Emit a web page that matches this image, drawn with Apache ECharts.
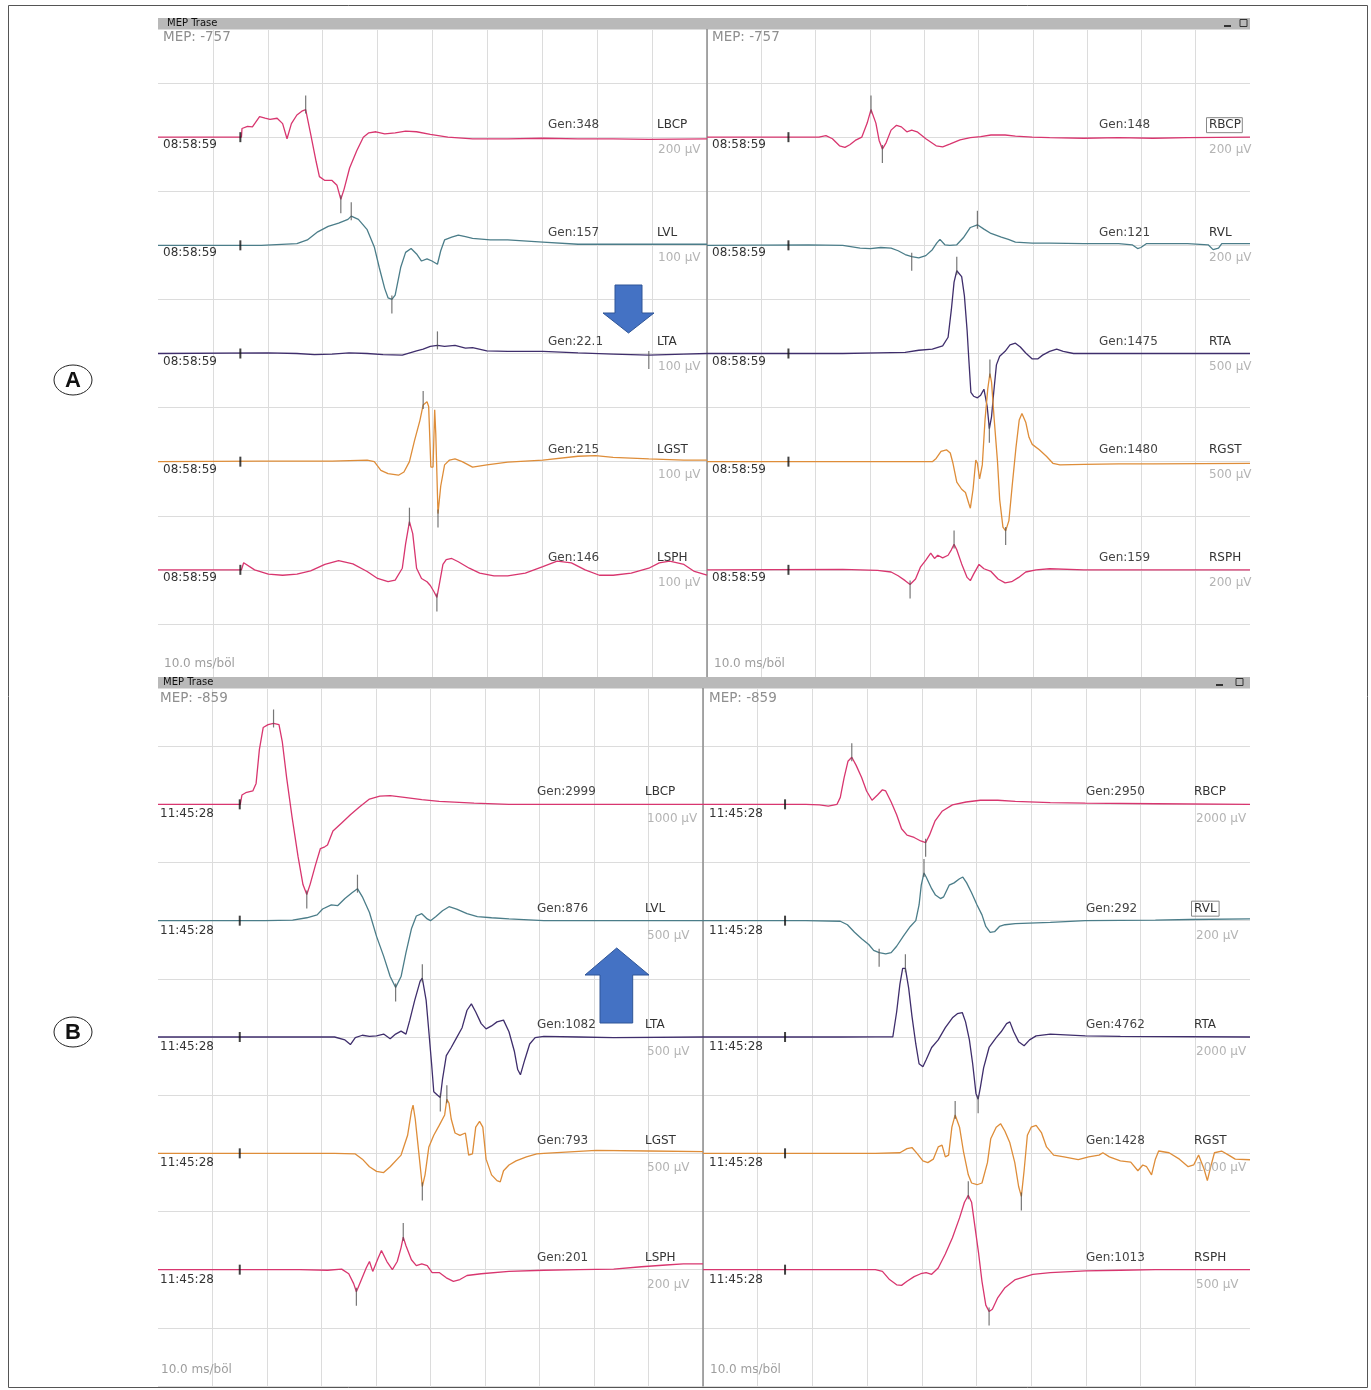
<!DOCTYPE html>
<html>
<head>
<meta charset="utf-8">
<title>MEP Trase</title>
<script src="https://cdn.jsdelivr.net/npm/echarts@6/dist/echarts.min.js"></script>
<style>
html, body { margin: 0; padding: 0; background: #fff; }
#main { width: 1371px; height: 1390px; }
</style>
</head>
<body>
<div id="main"></div>
<script>
var chart = echarts.init(document.getElementById('main'));

// ---- MEP traces, points are [ms, µV] ----
// panel A, left side (08:58:59)
var aLBCP = [[0,0],[15.2,0],[15.3,32],[16.3,40],[17.2,38],[18.5,76],[19.5,70],[20.4,66],[21.7,70],[22.7,50],[23.5,-6],[24.3,50],[25.3,82],[26.2,96],[26.9,102],[27.8,12],[28.8,-90],[29.4,-146],[30.4,-160],[31.7,-160],[32.6,-178],[33.3,-230],[33.9,-192],[34.9,-114],[36.2,-50],[37.4,0],[38.4,16],[39.7,20],[41.3,12],[43.2,16],[45.1,22],[47.1,20],[49.6,10],[52.8,0],[57.3,-6],[63.7,-6],[70.1,-4],[76.5,-6],[82.9,-6],[89.4,-8],[100,-6]];
var aLVL = [[0,0],[18.8,0],[25.3,3],[27.2,10],[29.1,25],[31.0,35],[32.9,41],[34.6,48],[35.2,54],[36.5,48],[38.1,29],[39.4,-3],[40.3,-41],[41.3,-80],[41.9,-97],[42.6,-100],[43.2,-92],[44.2,-41],[45.1,-13],[46.1,-6],[47.1,-16],[48.0,-29],[49.0,-25],[49.9,-29],[50.9,-35],[51.5,-10],[52.2,10],[53.5,15],[54.7,19],[56.0,16],[57.3,13],[60.5,10],[63.7,10],[70.1,6],[76.5,2],[82.9,2],[100,2]];
var aLTA = [[0,0],[20.0,1],[25.3,0],[28.5,-2],[31.7,-1],[34.8,1],[38.1,0],[41.0,-2],[44.5,-3],[47.1,5],[48.3,8],[49.6,13],[50.9,15],[52.2,13],[54.1,15],[56.0,10],[57.3,11],[59.9,5],[63.7,4],[70.1,4],[76.5,1],[82.9,-1],[89.4,-3],[95.8,-1],[100,0]];
var aLGST = [[0,0],[18.8,1],[25.3,1],[31.7,1],[38.1,3],[39.4,0],[40.6,-16],[41.9,-22],[43.8,-25],[44.8,-19],[45.8,0],[46.7,38],[47.7,76],[48.3,105],[49.0,111],[49.3,102],[49.7,-10],[50.1,-10],[50.4,96],[50.6,51],[51.0,-96],[51.5,-45],[52.2,-6],[53.1,3],[54.1,5],[55.4,0],[57.3,-10],[59.9,-6],[63.7,-1],[70.1,3],[76.5,10],[79.7,11],[82.9,8],[89.4,5],[95.8,3],[100,3]];
var aLSPH = [[0,0],[15.2,0],[15.6,13],[17.6,0],[20.1,-8],[22.7,-10],[25.3,-8],[27.8,-2],[30.4,10],[32.9,17],[35.5,11],[38.1,-3],[40.0,-16],[41.9,-22],[43.2,-19],[44.5,3],[45.1,48],[45.8,89],[46.4,67],[47.1,3],[48.0,-16],[49.0,-22],[49.6,-29],[50.3,-41],[50.8,-51],[51.2,-29],[51.9,10],[52.5,19],[53.5,21],[54.7,15],[56.7,3],[58.6,-6],[61.2,-11],[63.7,-11],[66.9,-6],[70.1,6],[72.7,16],[75.3,13],[77.8,0],[80.4,-10],[82.9,-10],[86.2,-6],[89.4,3],[91.3,13],[93.2,16],[95.8,10],[97.7,-3],[100,-10]];
// panel A, right side
var aRBCP = [[0,0],[20.6,0],[21.9,6],[23.1,-6],[24.4,-32],[25.4,-38],[26.3,-28],[27.3,-12],[28.5,0],[29.5,52],[30.2,102],[31.1,52],[31.7,-12],[32.3,-44],[33.0,-20],[33.9,26],[34.9,44],[35.8,38],[36.8,20],[37.7,26],[38.7,20],[40.3,-6],[42.2,-32],[43.4,-36],[44.7,-26],[46.6,-10],[48.5,-2],[50.4,2],[52.3,8],[54.9,8],[56.8,4],[59.9,0],[63.1,-2],[69.4,-4],[75.8,-2],[82.1,-4],[88.5,-2],[100,0]];
var aRVL = [[0,0],[18.7,2],[25.0,0],[28.2,-10],[30.1,-12],[32.0,-8],[33.9,-10],[35.2,-20],[36.5,-34],[37.7,-42],[39.0,-46],[40.3,-38],[41.5,-16],[42.3,8],[42.9,22],[43.8,2],[44.7,0],[46.0,2],[47.2,28],[48.5,66],[49.8,76],[51.0,60],[52.3,44],[54.2,30],[55.5,22],[56.8,12],[59.9,8],[63.1,8],[69.4,6],[75.8,6],[78.3,2],[79.3,-12],[79.9,-8],[80.9,6],[88.5,6],[92.3,2],[93.2,-16],[94.2,-10],[94.8,6],[100,6]];
var aRTA = [[0,0],[25.0,0],[31.4,5],[36.5,10],[39.0,30],[41.5,40],[43.4,70],[44.4,150],[45.0,405],[45.5,660],[46.0,765],[46.9,710],[47.4,535],[47.9,215],[48.2,-40],[48.6,-360],[49.1,-395],[49.8,-410],[50.4,-385],[51.0,-330],[51.6,-490],[52.0,-695],[52.4,-585],[52.8,-360],[53.3,-105],[53.9,-25],[54.9,20],[55.8,80],[56.8,95],[57.7,60],[58.7,5],[59.9,-50],[60.9,-50],[61.8,-15],[63.1,20],[64.4,40],[65.6,20],[67.5,0],[69.4,0],[100,0]];
var aRGST = [[0,0],[41.5,0],[42.2,30],[43.1,95],[44.1,110],[44.8,80],[45.3,-15],[46.0,-190],[46.9,-255],[47.6,-285],[48.2,-385],[48.5,-430],[49.0,-255],[49.5,15],[49.8,-15],[50.2,-160],[50.7,-30],[51.2,385],[51.7,670],[52.1,815],[52.4,735],[52.9,385],[53.5,0],[53.9,-350],[54.5,-605],[55.0,-640],[55.6,-545],[56.2,-225],[56.9,130],[57.5,385],[58.0,445],[58.7,365],[59.3,225],[59.9,160],[61.2,110],[62.5,50],[63.7,-15],[65.0,-30],[69.4,-25],[75.8,-20],[82.1,-20],[100,-15]];
var aRSPH = [[0,0],[25.0,2],[31.4,-2],[33.9,-8],[35.2,-22],[36.5,-40],[37.4,-54],[38.4,-34],[39.3,10],[40.3,36],[41.2,62],[41.9,42],[42.5,54],[43.4,44],[44.4,54],[45.0,74],[45.5,94],[46.0,74],[46.9,22],[47.9,-28],[48.5,-40],[49.1,-16],[50.1,20],[51.0,4],[52.3,-6],[53.6,-34],[54.9,-48],[56.1,-44],[57.4,-28],[58.7,-8],[60.6,0],[63.1,4],[69.4,0],[100,0]];
// panel B, left side (11:45:28)
var bLBCP = [[0,0],[15.1,0],[15.4,160],[16.1,200],[17.4,230],[18.0,360],[18.6,940],[19.3,1320],[20.2,1370],[21.2,1390],[22.2,1370],[22.8,1080],[23.6,460],[24.6,-220],[25.7,-900],[26.6,-1380],[27.3,-1550],[27.9,-1380],[28.9,-1040],[29.8,-760],[30.6,-730],[31.1,-700],[32.1,-460],[33.7,-320],[35.3,-180],[36.9,-50],[38.8,90],[40.7,140],[42.6,150],[45.2,120],[48.4,80],[51.6,50],[58.0,20],[64.4,0],[100,0]];
var bLVL = [[0,0],[19.6,0],[24.7,5],[27.3,25],[29.2,50],[30.2,100],[31.8,135],[33.0,130],[34.3,190],[35.6,240],[36.6,275],[37.5,205],[38.8,70],[40.1,-135],[41.4,-305],[42.6,-480],[43.6,-575],[44.6,-480],[45.5,-275],[46.5,-70],[47.4,40],[48.4,60],[49.4,15],[50.0,0],[51.0,35],[52.2,85],[53.4,120],[54.8,100],[56.7,60],[58.6,35],[61.2,25],[64.4,15],[70.8,0],[100,0]];
var bLTA = [[0,0],[32.4,0],[34.3,-25],[35.3,-65],[36.2,-5],[37.5,15],[38.8,5],[40.1,10],[41.4,25],[42.6,-15],[43.6,25],[44.6,50],[45.5,25],[46.2,145],[47.1,315],[48.1,480],[48.5,505],[49.2,315],[49.7,45],[50.2,-230],[50.6,-470],[51.3,-500],[51.8,-520],[52.2,-365],[52.9,-160],[53.8,-90],[54.8,-5],[55.8,80],[56.7,230],[57.5,285],[58.3,215],[59.3,115],[60.2,70],[61.2,95],[62.2,130],[63.4,145],[64.4,45],[65.4,-125],[66.0,-280],[66.5,-325],[67.3,-195],[68.2,-60],[69.2,-5],[70.8,5],[77.2,0],[83.6,-5],[100,0]];
var bLGST = [[0,0],[32.4,0],[36.2,-5],[37.5,-50],[38.8,-115],[40.1,-155],[41.4,-165],[42.6,-115],[44.6,-15],[45.8,155],[46.5,360],[46.8,415],[47.2,295],[47.9,-15],[48.5,-285],[49.0,-185],[49.7,55],[50.6,155],[51.6,240],[52.6,330],[53.0,465],[53.4,430],[53.8,295],[54.5,175],[55.4,155],[56.4,175],[57.0,-15],[57.7,-5],[58.3,225],[59.0,275],[59.6,225],[60.2,-50],[61.2,-185],[62.2,-235],[62.8,-245],[63.4,-150],[64.4,-100],[65.7,-65],[67.6,-30],[69.5,-5],[70.8,0],[80.4,25],[90.0,20],[100,15]];
var bLSPH = [[0,0],[26.0,0],[31.1,-2],[33.7,2],[35.0,-14],[35.9,-48],[36.4,-76],[37.2,-40],[38.2,6],[38.8,28],[39.4,-6],[40.4,40],[41.0,66],[42.0,28],[43.0,0],[43.9,28],[44.6,76],[45.0,112],[45.5,82],[46.5,34],[47.4,14],[48.4,20],[49.4,14],[50.3,-10],[51.6,-10],[52.9,-28],[54.2,-40],[55.4,-34],[56.7,-20],[59.3,-14],[64.4,-6],[70.8,-2],[77.2,0],[83.6,2],[88.7,10],[93.2,16],[96.4,20],[100,20]];
// panel B, right side
var bRBCP = [[0,0],[18.8,0],[21.3,-20],[22.9,-60],[24.5,0],[25.1,240],[25.8,920],[26.5,1480],[27.2,1620],[28.0,1340],[29.0,920],[29.9,460],[30.9,140],[31.9,320],[32.8,500],[33.4,460],[34.4,80],[35.4,-360],[36.3,-840],[37.3,-1060],[38.6,-1140],[39.8,-1260],[40.7,-1320],[41.4,-1060],[42.4,-580],[43.7,-240],[45.6,-20],[48.1,80],[50.7,140],[53.9,140],[57.1,100],[63.5,60],[69.9,40],[82.7,20],[100,0]];
var bRVL = [[0,0],[18.8,0],[25.1,-2],[26.4,-14],[27.7,-40],[29.0,-62],[30.3,-82],[31.2,-102],[32.2,-110],[33.4,-114],[34.4,-110],[35.4,-88],[36.6,-54],[37.9,-20],[38.9,0],[39.5,54],[39.9,122],[40.4,164],[40.8,150],[41.8,110],[42.5,88],[43.4,76],[44.0,82],[45.0,122],[45.9,130],[46.9,144],[47.5,150],[48.2,130],[49.1,96],[50.1,54],[51.0,20],[51.7,-20],[52.5,-40],[53.3,-38],[54.2,-20],[55.2,-14],[57.1,-10],[63.5,-6],[69.9,0],[82.7,2],[89.0,4],[100,6]];
var bRTA = [[0,0],[25.1,0],[31.5,2],[34.7,4],[35.4,860],[36.0,1820],[36.5,2360],[37.0,2360],[37.6,1680],[38.2,720],[38.9,-240],[39.5,-920],[40.2,-1020],[40.8,-780],[41.8,-360],[43.0,-100],[44.3,320],[45.6,660],[46.5,800],[47.4,840],[48.0,520],[48.7,-100],[49.3,-920],[49.9,-1940],[50.3,-2140],[50.7,-1740],[51.3,-1060],[52.3,-360],[53.6,-20],[54.5,180],[55.5,460],[56.1,520],[56.8,180],[57.7,-160],[58.7,-300],[59.7,-100],[60.9,40],[63.5,100],[69.9,40],[76.3,20],[100,0]];
var bRGST = [[0,0],[25.1,0],[31.5,0],[36.0,10],[37.3,80],[38.2,100],[39.2,-10],[40.2,-130],[41.1,-160],[42.1,-100],[43.0,110],[43.7,140],[44.3,-60],[44.9,-30],[45.5,450],[46.1,660],[46.9,450],[47.6,40],[48.5,-370],[49.1,-510],[50.1,-540],[51.0,-510],[52.0,-160],[52.6,250],[53.6,450],[54.4,510],[55.2,380],[56.1,180],[57.0,-160],[57.7,-570],[58.2,-740],[58.7,-300],[59.3,310],[60.0,450],[60.9,480],[61.9,350],[62.8,110],[64.1,-30],[66.0,-60],[68.6,-110],[70.5,-60],[72.4,-30],[73.1,10],[74.3,-60],[76.3,-130],[78.2,-150],[79.5,-300],[80.4,-200],[81.1,-230],[82.0,-370],[82.7,-100],[83.3,40],[85.2,10],[87.1,-100],[88.7,-230],[89.7,-200],[90.6,-30],[91.6,-270],[92.2,-470],[92.9,-200],[93.5,10],[94.8,40],[96.1,-30],[97.3,-100],[100,-110]];
var bRSPH = [[0,0],[25.1,0],[31.5,0],[32.8,-15],[34.1,-85],[35.4,-130],[36.3,-135],[37.3,-100],[38.6,-60],[39.8,-35],[40.8,-25],[41.8,-40],[43.0,15],[44.3,135],[45.6,275],[46.9,445],[47.8,580],[48.5,640],[49.1,580],[49.7,375],[50.4,135],[51.0,-100],[51.7,-305],[52.3,-360],[52.9,-340],[53.9,-240],[55.2,-155],[57.1,-85],[60.3,-40],[63.5,-25],[69.9,-10],[76.3,-5],[82.7,0],[100,0]];

// ---- channel labels ----
var namesL = ['LBCP', 'LVL', 'LTA', 'LGST', 'LSPH'];
var namesR = ['RBCP', 'RVL', 'RTA', 'RGST', 'RSPH'];
var genAL = ['348', '157', '22.1', '215', '146'];
var genAR = ['148', '121', '1475', '1480', '159'];
var genBL = ['2999', '876', '1082', '793', '201'];
var genBR = ['2950', '292', '4762', '1428', '1013'];
// sensitivity, µV per division
var sensAL = [200, 100, 100, 100, 100];
var sensAR = [200, 200, 500, 500, 200];
var sensBL = [1000, 500, 500, 500, 200];
var sensBR = [2000, 200, 2000, 1000, 500];
// latency cursors, ms
var curAL = [[26.9, 33.3], [35.2, 42.6], [50.9, 89.4], [48.3, 51.0], [45.8, 50.8]];
var curAR = [[30.2, 32.3], [37.7, 49.8], [46.0, 52.0], [52.1, 55.0], [37.4, 45.5]];
var curBL = [[21.2, 27.3], [36.6, 43.6], [48.5, 51.8], [48.5, 53.0], [36.4, 45.0]];
var curBR = [[27.2, 40.7], [32.2, 40.4], [37.0, 50.3], [46.1, 58.2], [48.5, 52.3]];
var stimMs = 15;

var rowColors = ['#d8366f', '#4b7d89', '#3f2e6c', '#de8d39', '#d8366f'];
var gridColor = '#dcdcdc';
var FONT = '"DejaVu Sans", Verdana, sans-serif';

var panels = [
    {left: 158, top: 29, width: 549, height: 649, traces: [aLBCP, aLVL, aLTA, aLGST, aLSPH], names: namesL, gen: genAL, sens: sensAL, cur: curAL,
     time: '08:58:59', mep: 'MEP: -757', genX: 390, nameX: 499, sensX: 500, timeX: 5, mepX: 5, msX: 6, nameDy: -12, sensDy: 13, timeDy: 8, boxed: -1, right: false},
    {left: 707, top: 29, width: 543, height: 649, traces: [aRBCP, aRVL, aRTA, aRGST, aRSPH], names: namesR, gen: genAR, sens: sensAR, cur: curAR,
     time: '08:58:59', mep: 'MEP: -757', genX: 392, nameX: 502, sensX: 502, timeX: 5, mepX: 5, msX: 7, nameDy: -12, sensDy: 13, timeDy: 8, boxed: 0, right: true},
    {left: 158, top: 688, width: 545, height: 698, traces: [bLBCP, bLVL, bLTA, bLGST, bLSPH], names: namesL, gen: genBL, sens: sensBL, cur: curBL,
     time: '11:45:28', mep: 'MEP: -859', genX: 379, nameX: 487, sensX: 489, timeX: 2, mepX: 2, msX: 3, nameDy: -12, sensDy: 15, timeDy: 10, boxed: -1, right: false},
    {left: 703, top: 688, width: 547, height: 698, traces: [bRBCP, bRVL, bRTA, bRGST, bRSPH], names: namesR, gen: genBR, sens: sensBR, cur: curBR,
     time: '11:45:28', mep: 'MEP: -859', genX: 383, nameX: 491, sensX: 493, timeX: 6, mepX: 6, msX: 7, nameDy: -12, sensDy: 15, timeDy: 10, boxed: 1, right: true}
];

// row k sits on this division line (12 divisions per panel)
function baseOf(k) { return 10 - 2 * k; }

function nearestValue(trace, t) {
    var best = trace[0];
    for (var i = 1; i < trace.length; i++) {
        if (Math.abs(trace[i][0] - t) < Math.abs(best[0] - t)) best = trace[i];
    }
    return best[1];
}

var grids = [], xAxes = [], yAxes = [], series = [];
panels.forEach(function (p, gi) {
    grids.push({left: p.left, top: p.top, width: p.width, height: p.height, containLabel: false});
    xAxes.push({
        gridIndex: gi, type: 'value', min: 0, max: 100, interval: 10,
        axisLine: {show: false}, axisTick: {show: false}, axisLabel: {show: false},
        splitLine: {show: true, showMinLine: false, showMaxLine: !p.right, lineStyle: {color: gridColor, width: 1}}
    });
    yAxes.push({
        gridIndex: gi, type: 'value', min: 0, max: 12, interval: 1,
        axisLine: {show: p.right, onZero: false, lineStyle: {color: '#8c8c8c', width: 1.5}},
        axisTick: {show: false}, axisLabel: {show: false},
        splitLine: {show: true, lineStyle: {color: gridColor, width: 1}}
    });
    var cursors = [], stims = [];
    p.traces.forEach(function (tr, k) {
        var base = baseOf(k), sens = p.sens[k];
        series.push({
            type: 'line', xAxisIndex: gi, yAxisIndex: gi, showSymbol: false, clip: false, z: 3,
            lineStyle: {color: rowColors[k], width: 1.3},
            data: tr.map(function (pt) { return [pt[0], base + pt[1] / sens]; })
        });
        p.cur[k].forEach(function (t) {
            var v = nearestValue(tr, t);
            cursors.push({value: [t, base + v / sens], symbolOffset: [0, v >= 0 ? -5 : 5]});
        });
        stims.push([stimMs, base]);
    });
    series.push({
        type: 'scatter', xAxisIndex: gi, yAxisIndex: gi, symbol: 'rect', symbolSize: [1.2, 18], z: 4,
        itemStyle: {color: '#555'}, data: cursors, silent: true
    });
    series.push({
        type: 'scatter', xAxisIndex: gi, yAxisIndex: gi, symbol: 'rect', symbolSize: [2, 10], z: 4,
        itemStyle: {color: '#111'}, data: stims, silent: true
    });
});

chart.setOption({
    animation: false,
    backgroundColor: '#fff',
    grid: grids,
    xAxis: xAxes,
    yAxis: yAxes,
    series: series
});

/* labels and frame */
function txt(x, y, s, fill, size, extra) {
    var o = {type: 'text', x: x, y: y, z: 10, silent: true,
        style: {text: s, fill: fill, font: size + 'px ' + FONT, align: 'left', verticalAlign: 'middle'}};
    if (extra) for (var key in extra) o.style[key] = extra[key];
    return o;
}

var g = [];
g.push({type: 'rect', shape: {x: 8.5, y: 5.5, width: 1359, height: 1382}, style: {fill: 'none', stroke: '#555', lineWidth: 1}, z: 10});

[[18, 167, 1224, 1240], [677, 163, 1216, 1236]].forEach(function (b) {
    g.push({type: 'rect', shape: {x: 158, y: b[0], width: 1092, height: 11}, style: {fill: '#b9b9b9'}, z: 10});
    g.push(txt(b[1], b[0] + 5.5, 'MEP Trase', '#111', 10));
    g.push({type: 'rect', shape: {x: b[2], y: b[0] + 7, width: 7, height: 2}, style: {fill: '#333'}, z: 11});
    g.push({type: 'rect', shape: {x: b[3], y: b[0] + 1.5, width: 7, height: 7}, style: {fill: 'none', stroke: '#333', lineWidth: 1}, z: 11});
});

panels.forEach(function (p, gi) {
    g.push(txt(p.left + p.mepX, p.top + (gi < 2 ? 8 : 10), p.mep, '#8f8f8f', 13.5));
    g.push(txt(p.left + p.msX, p.top + p.height - (gi < 2 ? 14 : 16), '10.0 ms/böl', '#9e9e9e', 12));
    p.names.forEach(function (nm, k) {
        var by = chart.convertToPixel({xAxisIndex: gi, yAxisIndex: gi}, [0, baseOf(k)])[1];
        g.push(txt(p.left + p.timeX, by + p.timeDy, p.time, '#333', 12));
        g.push(txt(p.left + p.genX, by + p.nameDy, 'Gen:' + p.gen[k], '#444', 12));
        g.push(txt(p.left + p.nameX, by + p.nameDy, nm, '#333', 12));
        g.push(txt(p.left + p.sensX, by + p.sensDy, p.sens[k] + ' µV', '#b4b4b4', 12));
        if (p.boxed === k) {
            var w = nm.length * 8.2 + 3;
            g.push({type: 'rect', z: 10, silent: true, shape: {x: p.left + p.nameX - 2.5, y: by + p.nameDy - 7.5, width: w, height: 15},
                style: {fill: 'none', stroke: '#888', lineWidth: 1}});
        }
    });
});

// arrows
g.push({type: 'polygon', z: 12, shape: {points: [[615, 285], [642, 285], [642, 313], [654, 313], [628.5, 333], [603, 313], [615, 313]]},
    style: {fill: '#4472c4', stroke: '#2f5597', lineWidth: 1}});
g.push({type: 'polygon', z: 12, shape: {points: [[616.7, 948], [649, 975], [632.7, 975], [632.7, 1023], [600, 1023], [600, 975], [585, 975]]},
    style: {fill: '#4472c4', stroke: '#2f5597', lineWidth: 1}});

// panel letters
[['A', 380], ['B', 1032]].forEach(function (l) {
    g.push({type: 'ellipse', z: 10, shape: {cx: 73, cy: l[1], rx: 19, ry: 15}, style: {fill: 'none', stroke: '#222', lineWidth: 1}});
    g.push(txt(73, l[1] + 1, l[0], '#111', 21, {align: 'center', font: 'bold 22px "Liberation Sans", Arial, sans-serif'}));
});

chart.setOption({graphic: {elements: g}});
</script>
</body>
</html>
